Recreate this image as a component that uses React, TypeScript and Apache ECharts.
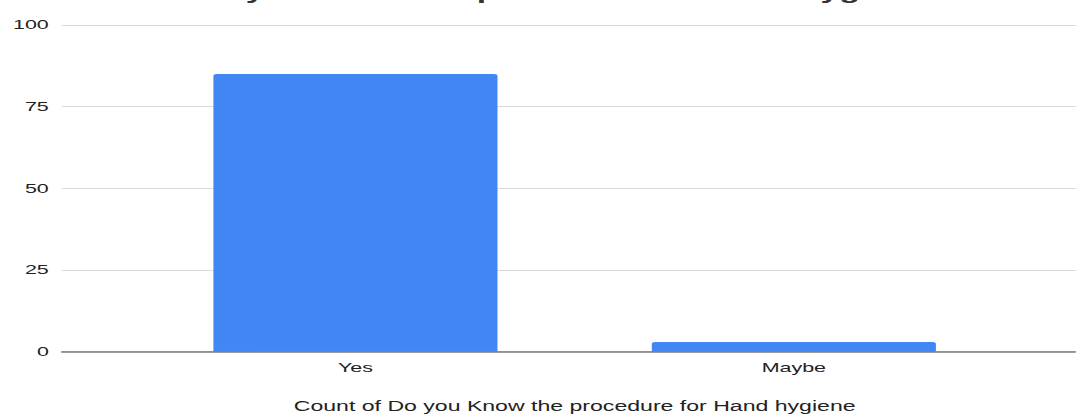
import React, { useEffect, useRef } from "react";
import * as echarts from "echarts";

// Responses to "Do you Know the procedure for Hand hygiene"
const categories: string[] = ["Yes", "Maybe"];
const counts: number[] = [85, 3];
const yTicks: number[] = [0, 25, 50, 75, 100];

const titleText = "Do you Know the procedure for Hand hygiene";
const xAxisTitle = "Count of Do you Know the procedure for Hand hygiene";

// The chart is laid out narrow and then widened horizontally as a whole.
const STRETCH = 1.65;
const PAGE_W = 1076;
const PAGE_H = 414;
const BASE_W = PAGE_W / STRETCH;

const FONT = "'Liberation Sans', Arial, Helvetica, sans-serif";

export default function App() {
  const ref = useRef<HTMLDivElement>(null);

  useEffect(() => {
    if (!ref.current) return;
    const chart = echarts.init(ref.current, undefined, { renderer: "svg" });

    const top = 25;
    const bottom = PAGE_H - 351.7;
    const yMin = yTicks[0];
    const yMax = yTicks[yTicks.length - 1];
    const step = yTicks[1] - yTicks[0];

    chart.setOption({
      animation: false,
      backgroundColor: "#ffffff",
      textStyle: { fontFamily: FONT },
      graphic: [
        {
          type: "text",
          x: 339,
          y: -7.5,
          style: {
            text: titleText,
            fontFamily: FONT,
            fontSize: 20.5,
            fontWeight: "bold",
            fill: "#333333",
            textAlign: "center",
            textVerticalAlign: "middle",
          },
        },
      ],
      grid: [
        { left: 62 / STRETCH, right: 0, top, bottom, outerBoundsMode: "none" },
        {
          left: 136.25 / STRETCH,
          right: (PAGE_W - 1013.25) / STRETCH,
          top,
          bottom,
          outerBoundsMode: "none",
        },
      ],
      xAxis: [
        {
          gridIndex: 0,
          type: "value",
          min: 0,
          max: 1,
          z: 5,
          axisLine: { show: true, lineStyle: { color: "#7a7a7a", width: 1.6 } },
          axisTick: { show: false },
          axisLabel: { show: false },
          splitLine: { show: false },
        },
        {
          gridIndex: 1,
          type: "category",
          data: categories,
          axisLine: { show: false },
          axisTick: { show: false },
          axisLabel: { fontSize: 13, color: "#222222", margin: 9, fontFamily: FONT },
          name: xAxisTitle,
          nameLocation: "middle",
          nameGap: 48,
          nameTextStyle: { fontSize: 14, color: "#222222", fontFamily: FONT },
        },
      ],
      yAxis: [
        {
          gridIndex: 0,
          type: "value",
          min: yMin,
          max: yMax,
          interval: step,
          axisLine: { show: false },
          axisTick: { show: false },
          axisLabel: { fontSize: 13, color: "#222222", margin: 8, fontFamily: FONT },
          splitLine: { show: true, lineStyle: { color: "#d9d9d9", width: 1 } },
        },
        {
          gridIndex: 1,
          type: "value",
          min: yMin,
          max: yMax,
          interval: step,
          show: false,
          splitLine: { show: false },
        },
      ],
      series: [
        {
          type: "bar",
          xAxisIndex: 1,
          yAxisIndex: 1,
          data: counts,
          barWidth: "64.8%",
          itemStyle: { color: "#4285f4", borderRadius: [2, 2, 0, 0] },
        },
      ],
    });

    return () => chart.dispose();
  }, []);

  return (
    <div
      style={{
        position: "fixed",
        left: 0,
        top: 0,
        width: PAGE_W,
        height: PAGE_H,
        overflow: "hidden",
        background: "#ffffff",
      }}
    >
      <div
        ref={ref}
        style={{
          width: BASE_W,
          height: PAGE_H,
          transform: `scaleX(${STRETCH})`,
          transformOrigin: "0 0",
        }}
      />
    </div>
  );
}
